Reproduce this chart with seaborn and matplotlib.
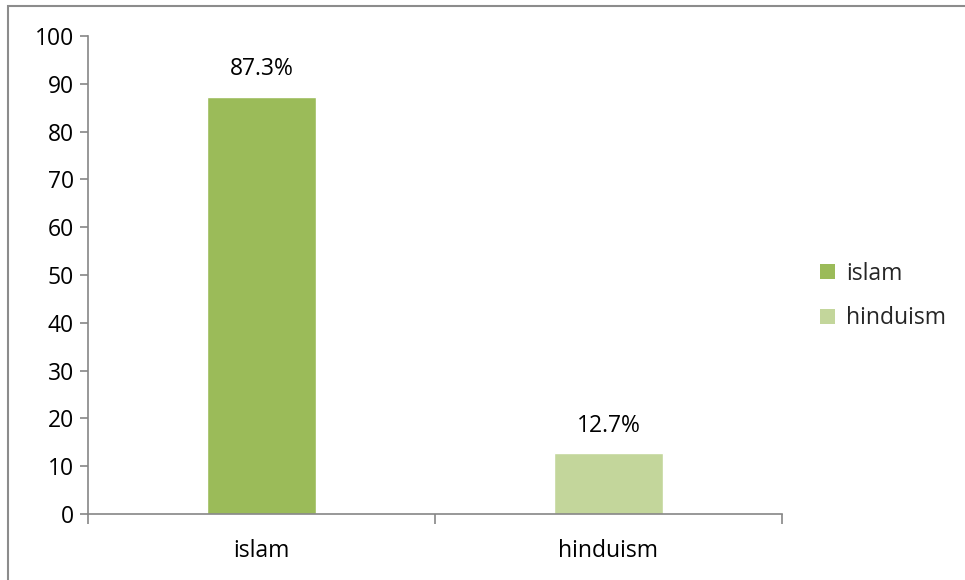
import matplotlib
matplotlib.use("Agg")
import matplotlib.pyplot as plt
import seaborn as sns
import pandas as pd
from matplotlib.patches import Rectangle, Patch

categories = ["islam", "hinduism"]
values = [87.3, 12.7]
labels = ["87.3%", "12.7%"]
colors = ["#9BBB59", "#C3D69B"]
yticks = [0, 10, 20, 30, 40, 50, 60, 70, 80, 90, 100]

sns.set_theme(style="white")
plt.rcParams["font.family"] = ["Open Sans", "DejaVu Sans"]

df = pd.DataFrame({"religion": categories, "value": values})

fig = plt.figure(figsize=(9.65, 5.8), dpi=100)
ax = fig.add_axes([88/965, 1-514/580, (782-88)/965, (514-36)/580])

sns.barplot(data=df, x="religion", y="value", hue="religion",
            palette=dict(zip(categories, colors)), width=0.314,
            saturation=1, legend=False, ax=ax)

ax.set_xlim(-0.5, 1.5)
ax.set_ylim(0, 100)
ax.set_yticks(yticks)
ax.set_xlabel("")
ax.set_ylabel("")

fs = 16.5
spine_c = "#868686"
for s in ["top", "right"]:
    ax.spines[s].set_visible(False)
for s in ["left", "bottom"]:
    ax.spines[s].set_color(spine_c)
    ax.spines[s].set_linewidth(1.2)

ax.tick_params(axis="y", which="major", left=True, length=6, width=1.2,
               color=spine_c, labelsize=fs, labelcolor="black", pad=4)
ax.set_xticks([0, 1])
ax.set_xticklabels(categories)
ax.tick_params(axis="x", which="major", bottom=False, length=0,
               labelsize=fs, labelcolor="black", pad=18)
ax.set_xticks([-0.5, 0.5, 1.5], minor=True)
ax.tick_params(axis="x", which="minor", bottom=True, length=7, width=1.2,
               color=spine_c)

for i, (v, lab) in enumerate(zip(values, labels)):
    ax.annotate(lab, xy=(i, v), xytext=(0, 20), textcoords="offset points",
                ha="center", va="center", fontsize=fs, color="black")

handles = [Patch(facecolor=c, edgecolor="none") for c in colors]
fig.legend(handles, categories, loc="center left",
           bbox_to_anchor=(799/965, 1-296/580), frameon=False,
           fontsize=fs, handlelength=0.65, handleheight=0.65,
           handletextpad=0.5, labelspacing=0.9)

fig.patches.append(Rectangle((8/965, -0.05), 1.1, 1.05 - 6/580,
                             transform=fig.transFigure, fill=False,
                             edgecolor="#8c8c8c", linewidth=1.5))

fig.savefig("out.png", dpi=100)
